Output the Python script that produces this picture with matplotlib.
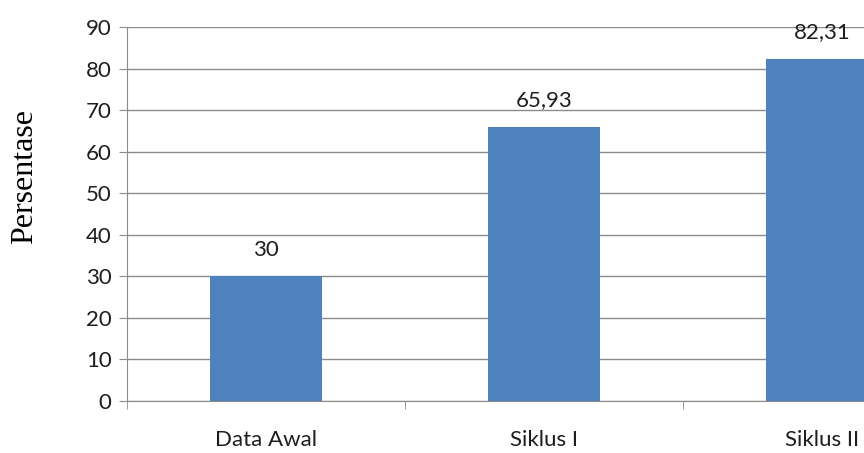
import matplotlib
matplotlib.use("Agg")
import matplotlib.pyplot as plt

categories = ["Data Awal", "Siklus I", "Siklus II"]
values = [30, 65.93, 82.31]
value_labels = ["30", "65,93", "82,31"]
y_ticks = list(range(0, 100, 10))

bar_color = "#4F81BD"
grid_color = "#8C8C8C"
text_color = "#1E1E1E"

fig = plt.figure(figsize=(8.64, 4.53), dpi=100)
# axes runs past the right edge, like the cropped original
ax = fig.add_axes([127 / 864, 52 / 453, 834 / 864, 374 / 453])

x = list(range(len(categories)))
ax.bar(x, values, width=0.4, color=bar_color, zorder=3)

ax.set_xlim(-0.5, len(categories) - 0.5)
ax.set_ylim(0, 90)
ax.set_yticks(y_ticks)
ax.yaxis.grid(True, color=grid_color, linewidth=1.0, zorder=0)

for spine in ["top", "right"]:
    ax.spines[spine].set_visible(False)
ax.spines["left"].set_color(grid_color)
ax.spines["bottom"].set_color(grid_color)

ax.set_xticks(x)
ax.set_xticklabels(categories, fontsize=16, fontfamily="Lato", color=text_color)
ax.tick_params(axis="x", length=0, pad=21)
ax.set_xticks([i - 0.5 for i in range(len(categories) + 1)], minor=True)
ax.tick_params(axis="x", which="minor", length=6, color=grid_color, direction="out")
ax.tick_params(axis="y", length=6, color=grid_color, pad=5, labelsize=16)
for lbl in ax.get_yticklabels():
    lbl.set_fontfamily("Lato")
    lbl.set_color(text_color)

for xi, v, lab in zip(x, values, value_labels):
    ax.annotate(lab, (xi, v), xytext=(0, 12), textcoords="offset points",
                ha="center", va="bottom", fontsize=16, fontfamily="Lato",
                color=text_color, annotation_clip=False)

fig.text(25 / 864, 1 - 177 / 453, "Persentase", rotation=90, ha="center", va="center",
         fontsize=23, fontfamily="Liberation Serif")

fig.savefig("out.png", dpi=100)
